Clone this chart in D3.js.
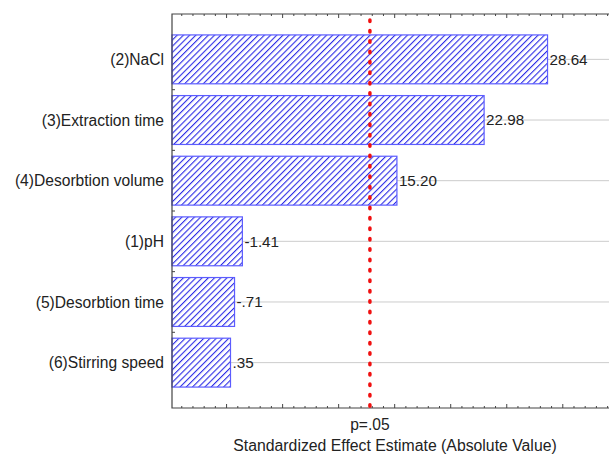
<!DOCTYPE html>
<html>
<head>
<meta charset="utf-8">
<script src="https://cdn.jsdelivr.net/npm/d3@7"></script>
<style>
  body { margin: 0; background: #fff; }
  text { font-family: "Liberation Sans", Arial, sans-serif; }
</style>
</head>
<body>
<svg id="chart" width="609" height="456"></svg>
<script>
// effects, sorted as in the Pareto chart
const factors = ["(2)NaCl", "(3)Extraction time", "(4)Desorbtion volume", "(1)pH", "(5)Desorbtion time", "(6)Stirring speed"];
const effects = [28.64, 22.98, 15.20, -1.41, -0.71, 0.35];
const pCrit = 12.79;
const pLabel = "p=.05";
const xTitle = "Standardized Effect Estimate (Absolute Value)";

const svg = d3.select("#chart");
const plotL = 172, plotT = 14, plotB = 408, plotR = 614;

const x = d3.scaleLinear().domain([-4.87, 34.57]).range([plotL, plotR]);
const y = d3.scaleBand().domain(factors).range([plotT, plotB])
    .paddingInner(0.194).paddingOuter(0.345);

// hatch pattern for the bars
const defs = svg.append("defs");
const pat = defs.append("pattern")
    .attr("id", "hatch")
    .attr("patternUnits", "userSpaceOnUse")
    .attr("width", 4.4).attr("height", 4.4)
    .attr("patternTransform", "rotate(45)");
pat.append("rect").attr("width", 4.4).attr("height", 4.4).attr("fill", "#fff");
pat.append("line")
    .attr("x1", 0).attr("y1", 0).attr("x2", 0).attr("y2", 4.4)
    .attr("stroke", "#2b2be6").attr("stroke-width", 2.2);

// gridlines at each factor
svg.append("g").selectAll("line").data(factors).enter().append("line")
    .attr("x1", plotL).attr("x2", 609)
    .attr("y1", d => y(d) + y.bandwidth() / 2)
    .attr("y2", d => y(d) + y.bandwidth() / 2)
    .attr("stroke", "#cccccc").attr("stroke-width", 1);

// bars
svg.append("g").selectAll("rect").data(effects).enter().append("rect")
    .attr("x", plotL)
    .attr("y", (d, i) => y(factors[i]))
    .attr("width", d => x(Math.abs(d)) - plotL)
    .attr("height", y.bandwidth())
    .attr("fill", "url(#hatch)")
    .attr("stroke", "#5c5cff").attr("stroke-width", 1.2);

// value labels, Statistica style: no leading zero, plain hyphen
const fmt = v => (v < 0 ? "-" : "") + d3.format(".2f")(Math.abs(v)).replace(/^0\./, ".");
svg.append("g").selectAll("text").data(effects).enter().append("text")
    .attr("x", d => x(Math.abs(d)) + 2)
    .attr("y", (d, i) => y(factors[i]) + y.bandwidth() / 2)
    .attr("dy", "0.36em")
    .attr("font-size", 15.2)
    .attr("fill", "#222")
    .text(fmt);

// category labels
svg.append("g").selectAll("text").data(factors).enter().append("text")
    .attr("x", 164)
    .attr("y", d => y(d) + y.bandwidth() / 2)
    .attr("dy", "0.36em")
    .attr("text-anchor", "end")
    .attr("font-size", 15.6)
    .attr("fill", "#222")
    .text(d => d);

// frame: left, top, bottom
const axisCol = "#444";
svg.append("path")
    .attr("d", `M609,${plotT}H${plotL}V${plotB}H609`)
    .attr("fill", "none").attr("stroke", axisCol).attr("stroke-width", 1.2);

// inward ticks, major every 5, minor every 1
const minor = d3.range(-4, 35, 1).filter(v => x(v) < 609);
[plotT, plotB].forEach(yy => {
  const dir = yy === plotT ? 1 : -1;
  svg.append("g").selectAll("line").data(minor).enter().append("line")
      .attr("x1", d => x(d)).attr("x2", d => x(d))
      .attr("y1", yy)
      .attr("y2", d => yy + dir * (d % 5 === 0 ? 4 : 2))
      .attr("stroke", axisCol).attr("stroke-width", 1);
});

// left axis ticks between bands
const edges = factors.map(f => y(f) - (y.step() - y.bandwidth()) / 2).slice(1);
svg.append("g").selectAll("line").data(edges).enter().append("line")
    .attr("x1", plotL).attr("x2", plotL + 3)
    .attr("y1", d => d).attr("y2", d => d)
    .attr("stroke", axisCol).attr("stroke-width", 1);

// significance line
svg.append("line")
    .attr("x1", x(pCrit)).attr("x2", x(pCrit))
    .attr("y1", plotT + 6).attr("y2", plotB)
    .attr("stroke", "#f01010").attr("stroke-width", 3.5)
    .attr("stroke-linecap", "round")
    .attr("stroke-dasharray", "1.5 8.9");

svg.append("text")
    .attr("x", x(pCrit)).attr("y", 430)
    .attr("text-anchor", "middle")
    .attr("font-size", 15.6).attr("fill", "#222")
    .text(pLabel);

svg.append("text")
    .attr("x", 395).attr("y", 451)
    .attr("text-anchor", "middle")
    .attr("font-size", 15.8).attr("fill", "#222")
    .text(xTitle);
</script>
</body>
</html>
